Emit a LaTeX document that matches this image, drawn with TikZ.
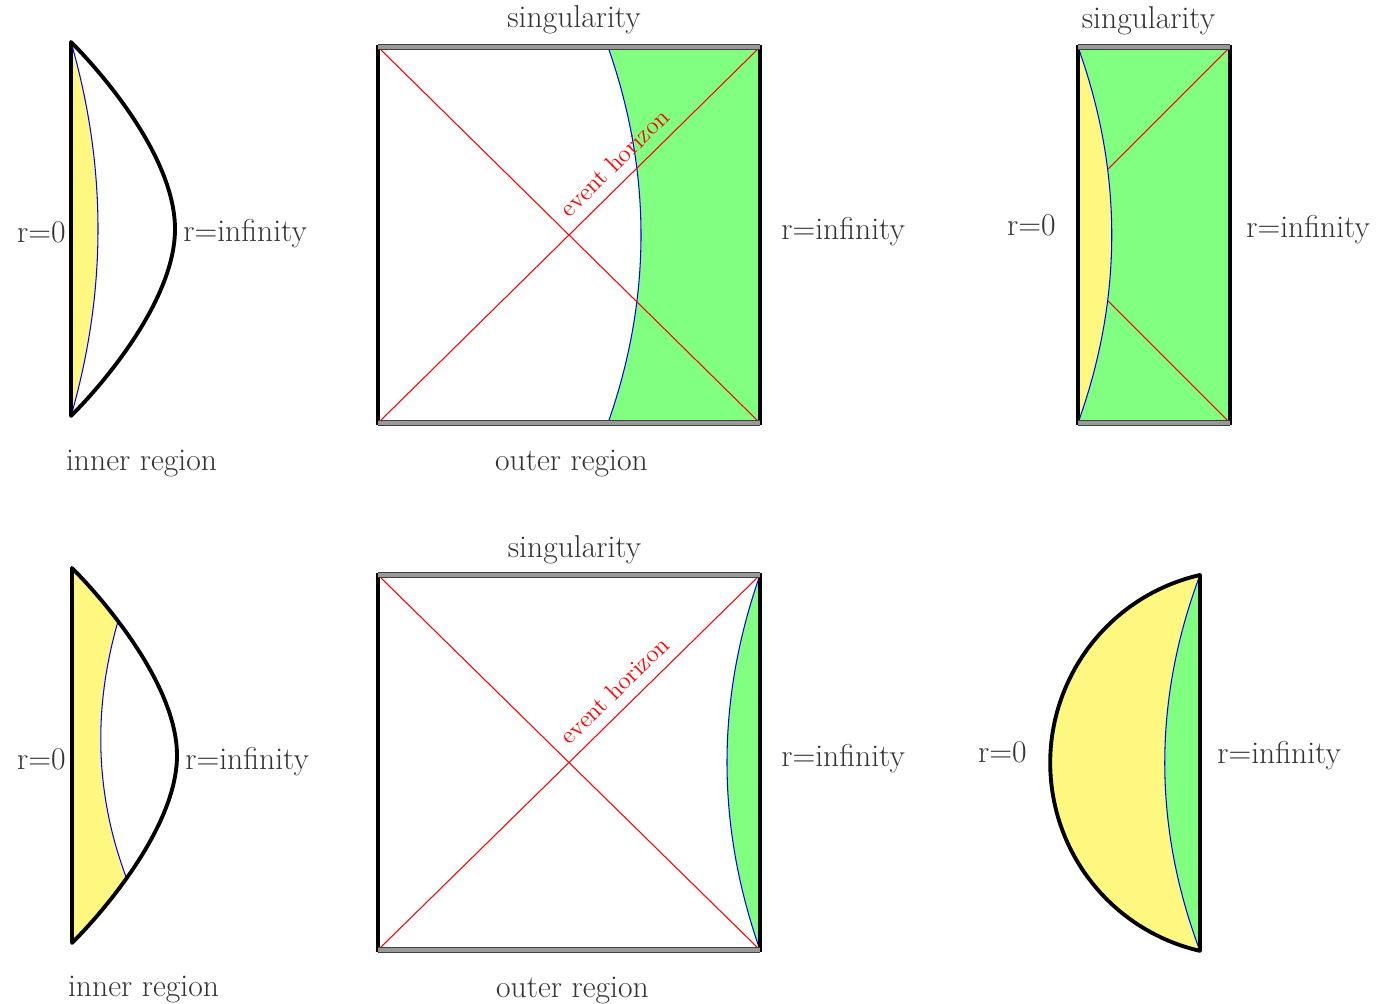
\documentclass[tikz,border=0pt]{standalone}
\usepackage{xcolor}
\usepackage{tikz}
\usetikzlibrary{calc}

\begin{document}
\begin{tikzpicture}[
    x=0.02cm, y=-0.02cm,
    rim/.style={draw=black,line width=2.2pt,line join=round,line cap=round},
    wall/.style={draw=black,line width=2.2pt,line cap=rect},
    sing/.style={draw=black!75,double=black!40,double distance=1.8pt,line width=0.8pt},
    horizon/.style={draw=red,line width=0.6pt},
    shell/.style={draw=blue,line width=0.6pt},
    innerfill/.style={fill=yellow!50},
    outerfill/.style={fill=green!50},
    txt/.style={font=\fontsize{18}{21}\selectfont,text=black!80,inner sep=0pt},
    ehtxt/.style={font=\fontsize{14}{16}\selectfont,text=red,sloped,above=6pt,inner sep=0pt,pos=0.655}
]
\useasboundingbox (0,0) rectangle (1383,1004);

% top left
\coordinate (topA) at (71,42);
\coordinate (botA) at (71,416);
\fill[innerfill] (topA) .. controls (107,167) and (107,291) .. (botA) -- cycle;
\draw[shell] (topA) .. controls (107,167) and (107,291) .. (botA);
\draw[rim] (botA) -- (topA) .. controls (105,76) and (175,159) .. (175,229)
    .. controls (175,299) and (105,382) .. (botA);
\node[txt,anchor=base east] (rzeroA) at (66,242) {r=0};
\node[txt,anchor=base west] (rinfA) at (183,241) {r=infinity};
\node[txt,anchor=base] (innerA) at (141.5,470) {inner region};

% top middle
\coordinate (tlB) at (378,47);
\coordinate (trB) at (760,47);
\coordinate (blB) at (378,423);
\coordinate (brB) at (760,423);
\fill[outerfill] (608,47) .. controls (652,172) and (652,298) .. (608,423) -- (brB) -- (trB) -- cycle;
\draw[shell] (608,47) .. controls (652,172) and (652,298) .. (608,423);
\draw[horizon] (tlB) -- (brB);
\draw[horizon] (blB) -- node[ehtxt] (ehB) {event horizon} (trB);
\draw[wall] (tlB) -- (blB);
\draw[wall] (trB) -- (brB);
\draw[sing] (tlB) -- (trB);
\draw[sing] (blB) -- (brB);
\node[txt,anchor=base] (singB) at (574,28) {singularity};
\node[txt,anchor=base] (outerB) at (571.5,470) {outer region};
\node[txt,anchor=base west] (rinfB) at (781,239) {r=infinity};

% top right
\coordinate (tlC) at (1078,47);
\coordinate (trC) at (1230,47);
\coordinate (blC) at (1078,423);
\coordinate (brC) at (1230,423);
\coordinate (upC) at (1108,169);
\coordinate (lowC) at (1108,301);
\fill[outerfill] (tlC) rectangle (brC);
\fill[innerfill] (tlC) .. controls (1123,172) and (1123,298) .. (blC) -- cycle;
\draw[shell] (tlC) .. controls (1123,172) and (1123,298) .. (blC);
\draw[horizon] (trC) -- (upC);
\draw[horizon] (lowC) -- (brC);
\draw[wall] (tlC) -- (blC);
\draw[wall] (trC) -- (brC);
\draw[sing] (tlC) -- (trC);
\draw[sing] (blC) -- (brC);
\node[txt,anchor=base] (singC) at (1148.5,29) {singularity};
\node[txt,anchor=base east] (rzeroC) at (1056,235) {r=0};
\node[txt,anchor=base west] (rinfC) at (1246,237) {r=infinity};

% bottom left
\coordinate (topD) at (72,568);
\coordinate (botD) at (72,943);
\fill[innerfill] (topD) .. controls (106,602) and (177,686) .. (177,755.5)
    .. controls (177,825) and (106,909) .. (botD) -- cycle;
\begin{scope}
  \clip (topD) .. controls (106,602) and (177,686) .. (177,755.5)
      .. controls (177,825) and (106,909) .. (botD) -- cycle;
  \fill[white] (119,618) .. controls (92,709) and (95,797) .. (128,882) -- (200,882) -- (200,618) -- cycle;
  \draw[shell] (119,618) .. controls (92,709) and (95,797) .. (128,882);
\end{scope}
\draw[rim] (botD) -- (topD) .. controls (106,602) and (177,686) .. (177,755.5)
    .. controls (177,825) and (106,909) .. (botD);
\node[txt,anchor=base east] (rzeroD) at (66,769) {r=0};
\node[txt,anchor=base west] (rinfD) at (185,769) {r=infinity};
\node[txt,anchor=base] (innerD) at (143.5,996) {inner region};

% bottom middle
\coordinate (tlE) at (378,575);
\coordinate (trE) at (760,575);
\coordinate (blE) at (378,950);
\coordinate (brE) at (760,950);
\fill[outerfill] (trE) .. controls (716,700) and (716,825) .. (brE) -- cycle;
\draw[shell] (trE) .. controls (716,700) and (716,825) .. (brE);
\draw[horizon] (tlE) -- (brE);
\draw[horizon] (blE) -- node[ehtxt] (ehE) {event horizon} (trE);
\draw[wall] (tlE) -- (blE);
\draw[wall] (trE) -- (brE);
\draw[sing] (tlE) -- (trE);
\draw[sing] (blE) -- (brE);
\node[txt,anchor=base] (singE) at (574.5,557) {singularity};
\node[txt,anchor=base] (outerE) at (572.5,997) {outer region};
\node[txt,anchor=base west] (rinfE) at (781,766) {r=infinity};

% bottom right
\coordinate (topF) at (1200,575);
\coordinate (botF) at (1200,951);
\fill[innerfill] (topF) arc[start angle=-102.9,end angle=-257.1,radius=192.8] -- cycle;
\fill[outerfill] (topF) .. controls (1153,700) and (1153,826) .. (botF) -- cycle;
\draw[shell] (topF) .. controls (1153,700) and (1153,826) .. (botF);
\draw[rim] (botF) -- (topF) arc[start angle=-102.9,end angle=-257.1,radius=192.8];
\node[txt,anchor=base east] (rzeroF) at (1027,762) {r=0};
\node[txt,anchor=base west] (rinfF) at (1217,763) {r=infinity};
\end{tikzpicture}
\end{document}
